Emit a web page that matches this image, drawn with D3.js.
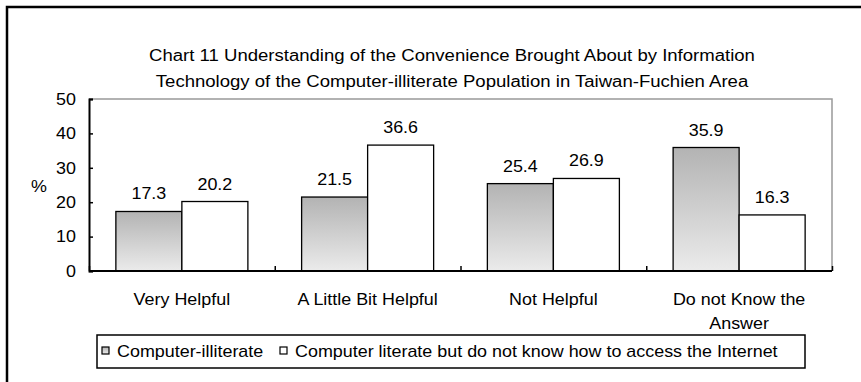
<!DOCTYPE html>
<html>
<head>
<meta charset="utf-8">
<script src="https://cdn.jsdelivr.net/npm/d3@7"></script>
<style>
  html, body { margin: 0; padding: 0; background: #fff; }
  svg { display: block; }
  text { font-family: "Liberation Sans", Arial, sans-serif; fill: #000; }
</style>
</head>
<body>
<svg id="chart" width="861" height="382"></svg>
<script>
// Data
const categories = [["Very Helpful"], ["A Little Bit Helpful"], ["Not Helpful"], ["Do not Know the", "Answer"]];
const seriesNames = ["Computer-illiterate", "Computer literate but do not know how to access the Internet"];
const illiterate = [17.3, 21.5, 25.4, 35.9];
const literateNoInternet = [20.2, 36.6, 26.9, 16.3];
const yTicks = [0, 10, 20, 30, 40, 50];
const titleLines = [
  "Chart 11 Understanding of the Convenience Brought About by Information",
  "Technology of the Computer-illiterate Population in Taiwan-Fuchien Area"
];

const svg = d3.select("#chart");
const W = 861, H = 382;
const FS = 16;      // base font size
const SX = 1.12;    // horizontal stretch of the text

svg.append("rect").attr("width", W).attr("height", H).attr("fill", "#fff");

// gradient for the first series
const defs = svg.append("defs");
const grad = defs.append("linearGradient").attr("id", "grayGrad")
  .attr("x1", 0).attr("y1", 0).attr("x2", 0).attr("y2", 1);
grad.append("stop").attr("offset", "0%").attr("stop-color", "#b3b3b3");
grad.append("stop").attr("offset", "100%").attr("stop-color", "#ebebeb");

// stretched text helper
function label(x, y, str, anchor, size, sx) {
  return svg.append("text")
    .attr("transform", `translate(${x},${y}) scale(${sx || SX},1)`)
    .attr("text-anchor", anchor || "middle")
    .attr("font-size", size || FS)
    .text(str);
}

// outer frame
svg.append("rect")
  .attr("x", 7).attr("y", 7).attr("width", W + 20).attr("height", H + 20)
  .attr("fill", "none").attr("stroke", "#000").attr("stroke-width", 2.5);

// plot area
const plot = { left: 89, right: 832, top: 99, bottom: 271 };

const x0 = d3.scaleBand().domain(d3.range(categories.length))
  .range([plot.left, plot.right]).paddingInner(0).paddingOuter(0);
const x1 = d3.scaleBand().domain(d3.range(seriesNames.length))
  .range([0, x0.bandwidth()]).paddingInner(0).paddingOuter(0.407);
const y = d3.scaleLinear().domain([0, 50]).range([plot.bottom, plot.top]);

// plot border (top and right)
svg.append("path")
  .attr("d", `M${plot.left},${plot.top}H${plot.right}V${plot.bottom}`)
  .attr("fill", "none").attr("stroke", "#999").attr("stroke-width", 1.5);

// bars
const series = [illiterate, literateNoInternet];
const fills = ["url(#grayGrad)", "#fff"];
series.forEach((vals, s) => {
  const g = svg.append("g");
  g.selectAll("rect").data(vals).join("rect")
    .attr("x", (d, i) => x0(i) + x1(s))
    .attr("y", d => y(d))
    .attr("width", x1.bandwidth())
    .attr("height", d => y(0) - y(d))
    .attr("fill", fills[s])
    .attr("stroke", "#000").attr("stroke-width", 1.3);
  vals.forEach((d, i) => {
    label(x0(i) + x1(s) + x1.bandwidth() / 2, y(d) - 12, d.toFixed(1));
  });
});

// y axis
const yAxis = d3.axisRight(y).tickValues(yTicks).tickSize(4).tickFormat("");
const ya = svg.append("g").attr("transform", `translate(${plot.left},0)`).call(yAxis);
ya.select(".domain").attr("stroke", "#000").attr("stroke-width", 2);
ya.selectAll(".tick line").attr("stroke", "#000").attr("stroke-width", 1.5);
yTicks.forEach(t => label(76, y(t) + 5.8, String(t), "end"));
label(39, 192, "%");

// x axis with ticks at category boundaries
const xb = d3.scaleLinear().domain([0, categories.length]).range([plot.left, plot.right]);
const xAxis = d3.axisTop(xb).ticks(categories.length).tickSize(5).tickFormat("");
const xa = svg.append("g").attr("transform", `translate(0,${plot.bottom})`).call(xAxis);
xa.select(".domain").attr("d", `M${plot.left},0H${plot.right}`).attr("stroke", "#000").attr("stroke-width", 2);
xa.selectAll(".tick line").attr("stroke", "#000").attr("stroke-width", 1.5);

categories.forEach((lines, i) => {
  const cx = x0(i) + x0.bandwidth() / 2;
  lines.forEach((ln, k) => label(cx, 305 + k * 24, ln));
});

// title
titleLines.forEach((t, k) => label(452, 61 + k * 26, t, "middle", 16, 1.16));

// legend
const leg = { left: 97, right: 805, top: 335, bottom: 368 };
svg.append("rect")
  .attr("x", leg.left).attr("y", leg.top)
  .attr("width", leg.right - leg.left).attr("height", leg.bottom - leg.top)
  .attr("fill", "#fff").attr("stroke", "#000").attr("stroke-width", 1.5);
const legX = [102, 280];
seriesNames.forEach((n, s) => {
  svg.append("rect").attr("x", legX[s]).attr("y", 347).attr("width", 7).attr("height", 7)
    .attr("fill", fills[s]).attr("stroke", "#000").attr("stroke-width", 1.2);
  label(legX[s] + 15, 357, n, "start");
});
</script>
</body>
</html>
